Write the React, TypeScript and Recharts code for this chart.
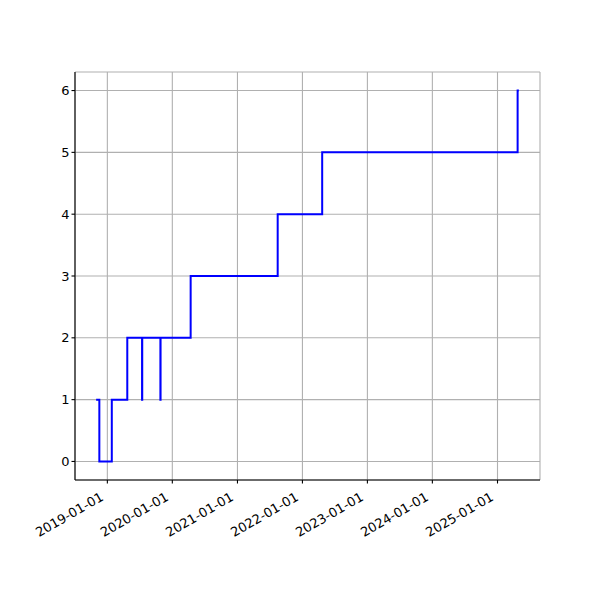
import { CartesianGrid, Line, LineChart, XAxis, YAxis } from "recharts";

const dates = [
  "2018-10-30", "2018-11-17", "2019-01-26", "2019-04-23", "2019-07-15", "2019-07-16",
  "2019-10-26", "2019-10-27", "2020-04-13", "2021-08-15", "2022-04-22", "2025-04-24", "2025-05-01"
];
const counts = [1, 0, 1, 2, 1, 2, 1, 2, 3, 4, 5, 6, 6];
const xTickLabels = ["2019-01-01", "2020-01-01", "2021-01-01", "2022-01-01", "2023-01-01", "2024-01-01", "2025-01-01"];
const yTicks = [0, 1, 2, 3, 4, 5, 6];

const data = dates.map((d, i) => ({ t: Date.parse(d), v: counts[i] }));
const tMin = data[0].t;
const tMax = data[data.length - 1].t;
const pad = (tMax - tMin) * 0.05;
const xTicks = xTickLabels.map((d) => Date.parse(d));

const fmt = (t: number) => new Date(t).toISOString().slice(0, 10);

function DateTick({ x, y, payload }: any) {
  return (
    <text
      x={x - 3}
      y={y + 14}
      transform={`rotate(-30 ${x - 3} ${y + 14})`}
      textAnchor="end"
      fontSize={13}
      fontFamily="DejaVu Sans"
      fill="#000"
    >
      {fmt(payload.value)}
    </text>
  );
}

export default function App() {
  return (
    <div style={{ position: "absolute", left: 0, top: 0 }}>
      <LineChart width={600} height={600} data={data} margin={{ top: 72, right: 60, bottom: 0, left: 0 }}>
        <CartesianGrid stroke="#b0b0b0" strokeWidth={1.1} />
        <XAxis
          dataKey="t"
          type="number"
          domain={[tMin - pad, tMax + pad]}
          ticks={xTicks}
          interval={0}
          tick={<DateTick />}
          tickSize={3.5}
          height={120}
          axisLine={{ stroke: "#000", strokeWidth: 1.1 }}
          tickLine={{ stroke: "#000", strokeWidth: 1.1 }}
          allowDataOverflow
        />
        <XAxis xAxisId="top" orientation="top" type="number" domain={[0, 1]} height={0} tick={false} tickLine={false} axisLine={{ stroke: "#000", strokeWidth: 1.1 }} />
        <YAxis
          type="number"
          domain={[-0.3, 6.3]}
          ticks={yTicks}
          interval={0}
          width={75}
          tickSize={3.5}
          tick={{ fontSize: 13, fontFamily: "DejaVu Sans", fill: "#000" }}
          axisLine={{ stroke: "#000", strokeWidth: 1.1 }}
          tickLine={{ stroke: "#000", strokeWidth: 1.1 }}
          allowDataOverflow
        />
        <YAxis yAxisId="right" orientation="right" type="number" domain={[0, 1]} width={0} tick={false} tickLine={false} axisLine={{ stroke: "#000", strokeWidth: 1.1 }} />
        <Line type="stepAfter" dataKey="v" stroke="#0000ff" strokeWidth={2} dot={false} isAnimationActive={false} />
      </LineChart>
    </div>
  );
}
